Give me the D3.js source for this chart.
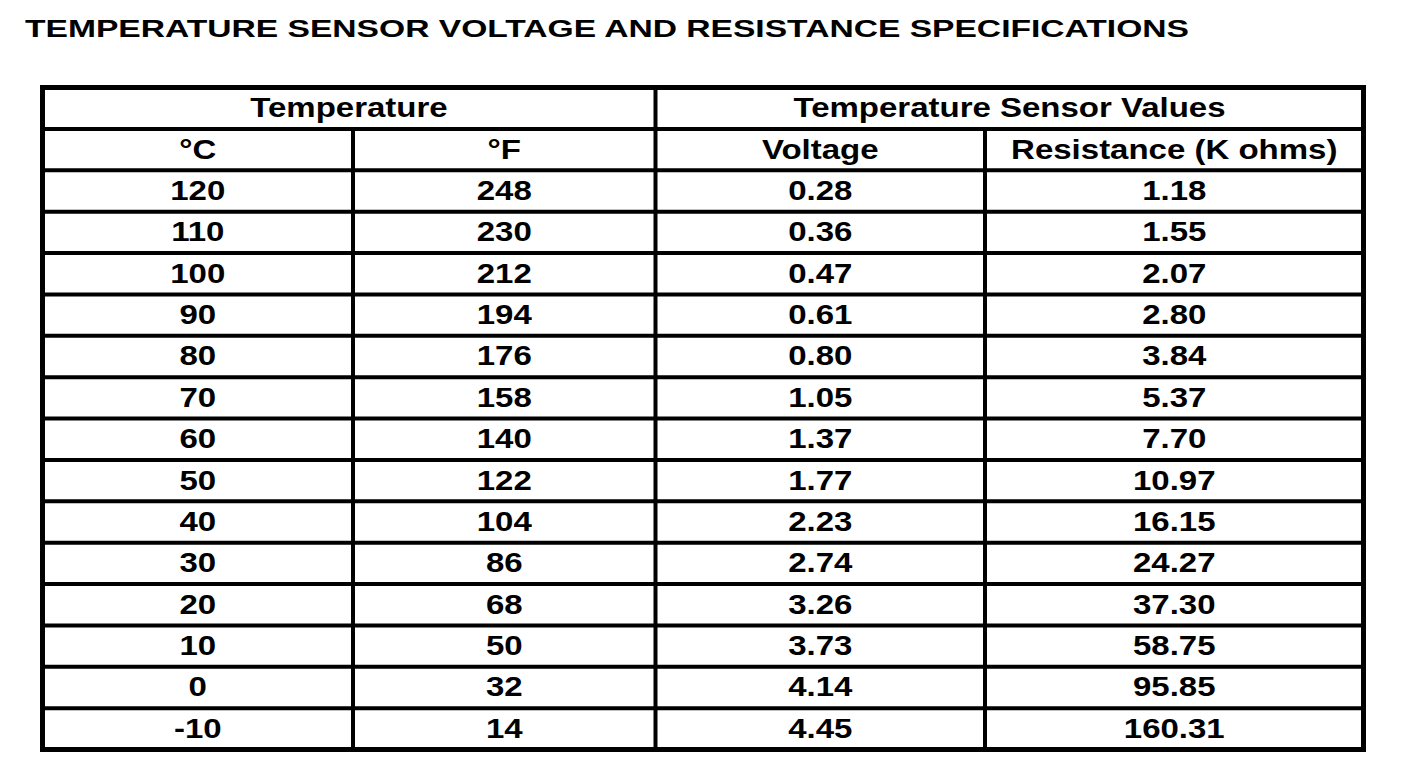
<!DOCTYPE html>
<html>
<head>
<meta charset="utf-8">
<script src="https://cdn.jsdelivr.net/npm/d3@7"></script>
<style>
  html, body { margin: 0; padding: 0; background: #fff; }
  svg { display: block; }
  text { font-family: "Liberation Sans", Arial, sans-serif; font-weight: bold; fill: #000; }
</style>
</head>
<body>
<svg id="chart" width="1408" height="774"></svg>
<script>
const title = "TEMPERATURE SENSOR VOLTAGE AND RESISTANCE SPECIFICATIONS";
const groupHeaders = ["Temperature", "Temperature Sensor Values"];
const columnHeaders = ["\u00B0C", "\u00B0F", "Voltage", "Resistance (K ohms)"];
const celsius = ["120", "110", "100", "90", "80", "70", "60", "50", "40", "30", "20", "10", "0", "-10"];
const fahrenheit = ["248", "230", "212", "194", "176", "158", "140", "122", "104", "86", "68", "50", "32", "14"];
const voltage = ["0.28", "0.36", "0.47", "0.61", "0.80", "1.05", "1.37", "1.77", "2.23", "2.74", "3.26", "3.73", "4.14", "4.45"];
const resistance = ["1.18", "1.55", "2.07", "2.80", "3.84", "5.37", "7.70", "10.97", "16.15", "24.27", "37.30", "58.75", "95.85", "160.31"];

(function () {
const svg = d3.select("#chart");

// layout
const tableTop = 87.5, tableBottom = 749.5;
const colEdges = [42.5, 353, 655.5, 985, 1363.5];
const nRows = 2 + celsius.length;
const y = d3.scaleBand().domain(d3.range(nRows)).range([tableTop, tableBottom]).padding(0);
const x = d3.scaleOrdinal().domain(d3.range(colEdges.length)).range(colEdges);
const fontSize = 27.5, sx = 1.2;

// title
svg.append("text")
  .attr("x", 25).attr("y", 37)
  .attr("font-size", 23)
  .attr("textLength", 1164)
  .attr("lengthAdjust", "spacingAndGlyphs")
  .text(title);

const g = svg.append("g");

function cellText(cx, row, str) {
  g.append("text")
    .attr("transform", `translate(${cx},${y(row) + y.bandwidth() / 2 + 9}) scale(${sx},1)`)
    .attr("text-anchor", "middle")
    .attr("font-size", fontSize)
    .text(str);
}

// group headers
cellText((x(0) + x(2)) / 2, 0, groupHeaders[0]);
cellText((x(2) + x(4)) / 2, 0, groupHeaders[1]);
// column headers
columnHeaders.forEach((h, i) => cellText((x(i) + x(i + 1)) / 2, 1, h));
// body
const cols = [celsius, fahrenheit, voltage, resistance];
cols.forEach((arr, c) => {
  arr.forEach((v, r) => cellText((x(c) + x(c + 1)) / 2, r + 2, v));
});

// grid lines
const lines = svg.append("g").attr("stroke", "#000").attr("fill", "none");
d3.range(1, nRows).forEach(r => {
  lines.append("line")
    .attr("x1", x(0)).attr("x2", x(4))
    .attr("y1", y(r)).attr("y2", y(r))
    .attr("stroke-width", 4);
});
[1, 2, 3].forEach(c => {
  lines.append("line")
    .attr("x1", x(c)).attr("x2", x(c))
    .attr("y1", c === 2 ? tableTop : y(1)).attr("y2", tableBottom)
    .attr("stroke-width", 4);
});
lines.append("rect")
  .attr("x", x(0)).attr("y", tableTop)
  .attr("width", x(4) - x(0)).attr("height", tableBottom - tableTop)
  .attr("stroke-width", 5);
})();
</script>
</body>
</html>
